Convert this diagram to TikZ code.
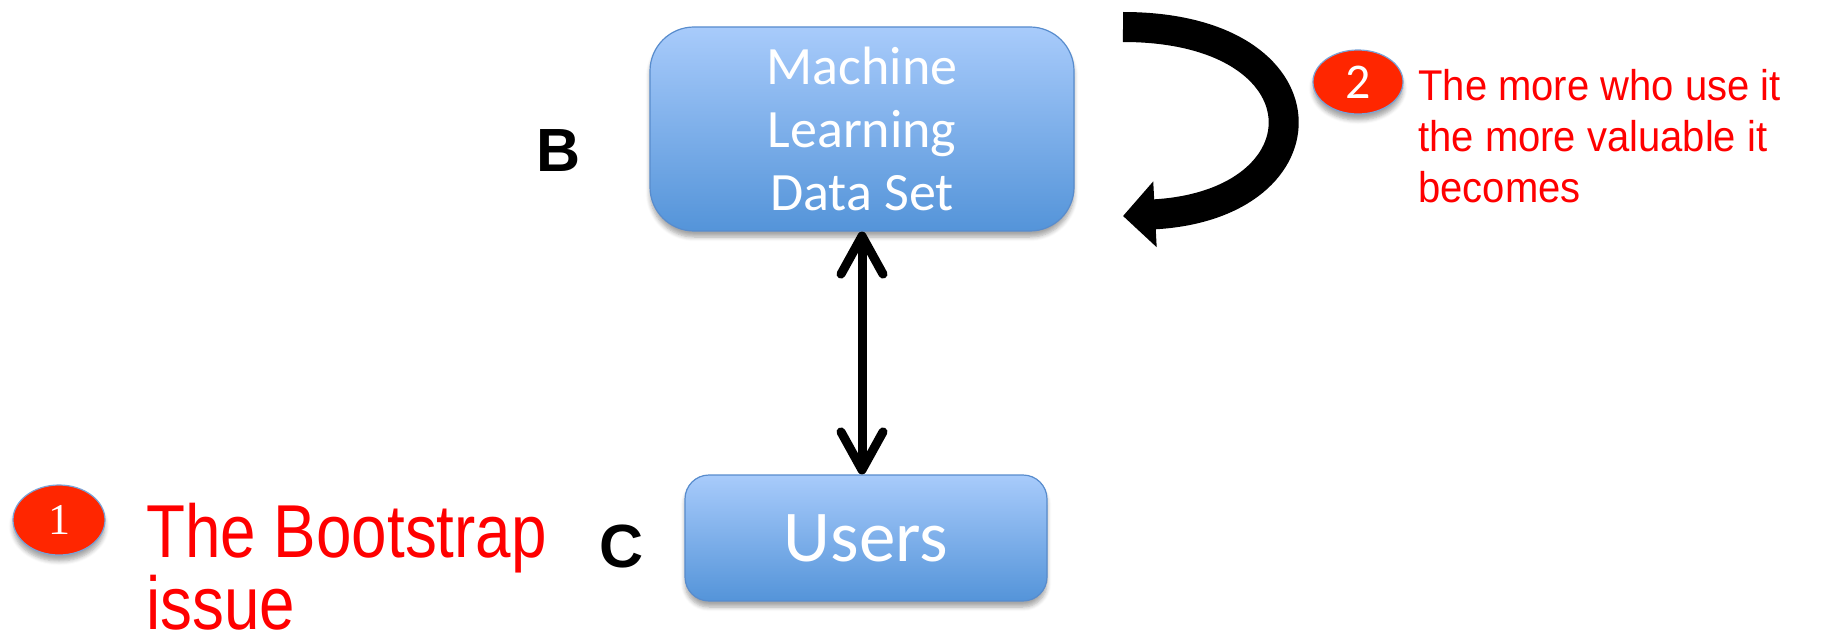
\documentclass[tikz,border=0pt]{standalone}
\usepackage{fontspec}
\setmainfont{Liberation Sans}
\newfontfamily\boxfont{Carlito}
\newfontfamily\numfont{Liberation Serif}
\newfontfamily\narrowfont[FakeStretch=0.85]{Liberation Sans}
\newfontfamily\notefont[FakeStretch=0.93]{Liberation Sans}
\usetikzlibrary{arrows.meta,shadows.blur,shapes.geometric,positioning}

\definecolor{boxtop}{RGB}{168,203,251}
\definecolor{boxbottom}{RGB}{84,148,217}
\definecolor{boxline}{RGB}{88,140,205}
\definecolor{badgered}{RGB}{255,38,0}
\definecolor{notered}{RGB}{255,0,0}

\tikzset{
  databox/.style={draw=boxline, line width=0.6pt, top color=boxtop, bottom color=boxbottom,
    text=white, inner sep=0pt, align=center,
    blur shadow={shadow xshift=0pt, shadow yshift=-3pt, shadow blur steps=6, shadow opacity=35}},
  badge/.style={ellipse, draw=boxline!80, line width=0.6pt, fill=badgered, text=white, inner sep=0pt,
    blur shadow={shadow xshift=0pt, shadow yshift=-3pt, shadow blur steps=5, shadow opacity=35}},
  note/.style={text=notered, align=left, inner sep=0pt, anchor=north west},
  letter/.style={font=\fontsize{30.5}{32}\selectfont\bfseries, inner sep=0pt},
  linkarrow/.style={line width=4.5pt, line cap=round,
    {Straight Barb[length=19pt,width=21pt,round]}-{Straight Barb[length=19pt,width=21pt,round]}},
  looparrow/.style={line width=15pt, -{Triangle[width=32pt,length=16pt]}}
}

\begin{document}
\begin{tikzpicture}[x=0.5pt,y=-0.5pt]
  \useasboundingbox (0,0) rectangle (1830,631);

  \node[databox, rounded corners=22pt, minimum width=212pt, minimum height=102pt,
    font=\boxfont\fontsize{27}{31.5}\selectfont] (mlset) at (862,129) {Machine\\Learning\\Data Set};
  \node[databox, rounded corners=12pt, minimum width=181pt, minimum height=63pt,
    font=\boxfont\fontsize{36.5}{40}\selectfont] (users) at (866,538) {Users};

  \node[letter] (labelb) at (559,151) {B};
  \node[letter] (labelc) at (622,546) {C};

  \draw[linkarrow] (mlset.south) -- (mlset.south |- users.north);

  \coordinate (loopstart) at (1123,27);
  \coordinate (loopend) at (1123,216);
  \draw[looparrow] (loopstart) .. controls (1332,27) and (1332,205) .. (loopend);

  \node[badge, minimum width=45pt, minimum height=32pt, font=\boxfont\fontsize{25}{27}\selectfont]
    (badgetwo) at (1358,82) {2};
  \node[badge, minimum width=46pt, minimum height=35pt, font=\numfont\fontsize{22}{24}\selectfont]
    (badgeone) at (59,520) {1};

  \node[note, font=\notefont\fontsize{21.5}{25.5}\selectfont] (notetwo) at (1418,69)
    {The more who use it\\the more valuable it\\becomes};
  \node[note, font=\narrowfont\fontsize{37.5}{33.5}\selectfont] (noteone) at (146,503)
    {The Bootstrap\\issue};
\end{tikzpicture}
\end{document}
